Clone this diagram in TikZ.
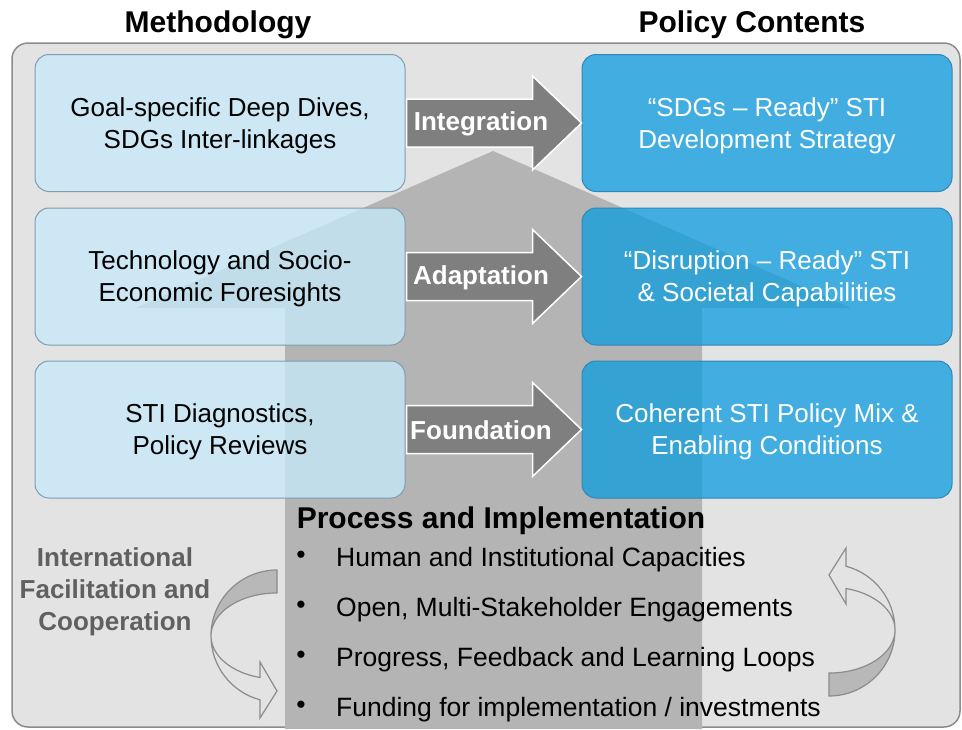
\documentclass[tikz,border=0pt]{standalone}
\usepackage{fontspec}
\setmainfont{Liberation Sans}
\usetikzlibrary{calc}
\definecolor{bgcol}{HTML}{E3E3E3}
\definecolor{outerline}{HTML}{8C8C8C}
\definecolor{housecol}{HTML}{B4B4B4}
\definecolor{lboxfill}{RGB}{198,235,251}
\definecolor{rboxfill}{RGB}{11,156,223}
\definecolor{lboxline}{HTML}{7F9DB0}
\definecolor{rboxline}{HTML}{2E88BA}
\definecolor{arrowgray}{HTML}{7F7F7F}
\definecolor{intgray}{HTML}{606060}
\definecolor{curveline}{HTML}{8C8C8C}
\definecolor{tailgray}{HTML}{B8B8B8}
\newcommand{\boxfont}{\fontsize{26}{32}\selectfont}
\newcommand{\bulfont}{\fontsize{26.5}{32}\selectfont}
\newcommand{\labfont}{\fontsize{26}{32}\selectfont\bfseries}
\newcommand{\titfont}{\fontsize{30}{36}\selectfont\bfseries}
\tikzset{
  lbox/.style={draw=lboxline, line width=1pt, fill=lboxfill, fill opacity=0.75, text opacity=1,
    rounded corners=14pt, minimum width=370pt, minimum height=137pt, align=center, inner sep=0pt,
    text depth=0pt, font=\boxfont},
  rbox/.style={lbox, draw=rboxline, fill=rboxfill, text=white},
  blockarrow/.style={fill=arrowgray, draw=white, line width=1.5pt, line join=miter},
  arrowlabel/.style={font=\labfont, text=white, inner sep=0pt},
  titlelabel/.style={font=\titfont, inner sep=0pt},
  bulletdot/.style={font=\bulfont, inner sep=0pt},
  bullettext/.style={font=\bulfont, inner sep=0pt, anchor=base west},
  curvearrow/.style={draw=curveline, line width=1.2pt, line join=miter},
  tailpart/.style={fill=tailgray}
}
\begin{document}
\begin{tikzpicture}[x=1pt,y=-1pt]
\useasboundingbox (0,0) rectangle (962,729);
% outer panel
\draw[fill=bgcol, draw=outerline, line width=1.5pt, rounded corners=16pt] (12,43) rectangle (960,727);
% up-arrow (house) shape
\fill[housecol] (285,729) -- (285,308) -- (135,308) -- (493,151) -- (851,308) -- (702,308) -- (702,729) -- cycle;
% titles
\node[titlelabel] (tmeth) at (218,25) {Methodology};
\node[titlelabel] (tpol) at (752,25) {Policy Contents};
% left boxes
\node[lbox] (l1) at (220,123) {Goal-specific Deep Dives,\\SDGs Inter-linkages};
\node[lbox] (l2) at (220,276.5) {Technology and Socio-\\Economic Foresights};
\node[lbox] (l3) at (220,429.5) {STI Diagnostics,\\Policy Reviews};
% right boxes
\node[rbox] (r1) at (767,123) {“SDGs – Ready” STI\\Development Strategy};
\node[rbox] (r2) at (767,276.5) {“Disruption – Ready” STI\\\& Societal Capabilities};
\node[rbox] (r3) at (767,429.5) {Coherent STI Policy Mix \&\\Enabling Conditions};
% block arrows
\foreach \b in {l1,l2,l3}{
  \path[blockarrow] (\b.east) ++(1,-24) -- ++(126,0) -- ++(0,-23) -- ++(49,47) -- ++(-49,47) -- ++(0,-23) -- ++(-126,0) -- cycle;
}
\node[arrowlabel] (a1) at (481,124) {Integration};
\node[arrowlabel] (a2) at (481,277.5) {Adaptation};
\node[arrowlabel] (a3) at (481,430.5) {Foundation};
% process and implementation
\node[font=\fontsize{30}{36}\selectfont\bfseries, inner sep=0pt] (proc) at (501,521) {Process and Implementation};
\node[bulletdot] (bd1) at (301,557) {•};
\node[bullettext] (bt1) at (336,566) {Human and Institutional Capacities};
\node[bulletdot] (bd2) at (301,607) {•};
\node[bullettext] (bt2) at (336,616) {Open, Multi-Stakeholder Engagements};
\node[bulletdot] (bd3) at (301,657) {•};
\node[bullettext] (bt3) at (336,666) {Progress, Feedback and Learning Loops};
\node[bulletdot] (bd4) at (301,707) {•};
\node[bullettext] (bt4) at (336,716) {Funding for implementation / investments};
% international cooperation
\node[font=\labfont, text=intgray, align=center, inner sep=0pt] (intl) at (115,592) {International\\Facilitation and\\Cooperation};
% left curved arrow
\begin{scope}[shift={(277,636)}]
  \path[tailpart] (0,-66) arc[start angle=270,end angle=180,x radius=66,y radius=66]
    arc[start angle=180,end angle=270,x radius=66,y radius=43] -- cycle;
  \draw[curvearrow] (0,-66) arc[start angle=270,end angle=104.9,x radius=66,y radius=66]
    -- (-17,82) -- (0,55) -- (-17,26) -- (-17,41.5)
    arc[start angle=104.9,end angle=270,x radius=66,y radius=43] -- cycle;
\end{scope}
% right curved arrow
\begin{scope}[shift={(829,630)}, rotate=180]
  \path[tailpart] (0,-66) arc[start angle=270,end angle=180,x radius=66,y radius=66]
    arc[start angle=180,end angle=270,x radius=66,y radius=43] -- cycle;
  \draw[curvearrow] (0,-66) arc[start angle=270,end angle=104.9,x radius=66,y radius=66]
    -- (-17,82) -- (0,55) -- (-17,26) -- (-17,41.5)
    arc[start angle=104.9,end angle=270,x radius=66,y radius=43] -- cycle;
\end{scope}
\end{tikzpicture}
\end{document}
